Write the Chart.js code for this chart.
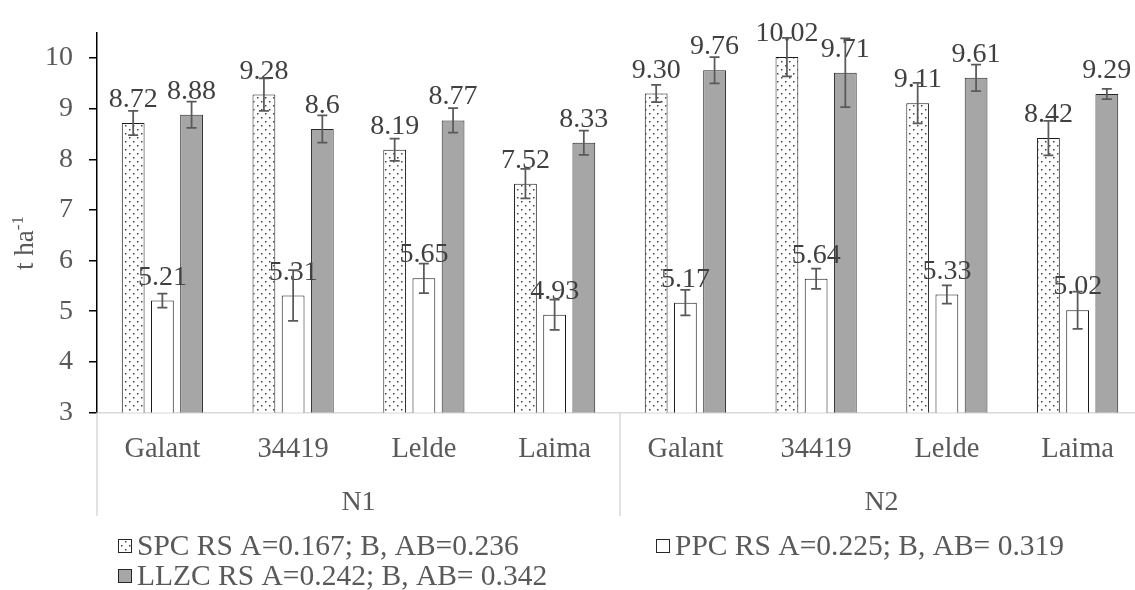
<!DOCTYPE html>
<html>
<head>
<meta charset="utf-8">
<script src="https://cdn.jsdelivr.net/npm/chart.js@4.4.1/dist/chart.umd.min.js"></script>
<style>
html, body { margin: 0; padding: 0; overflow: hidden; background: #fff; }
#wrap { width: 1143px; height: 590px; }
</style>
</head>
<body>
<div id="wrap"><canvas id="yieldChart" width="1143" height="590"></canvas></div>
<script>
var varieties = ['Galant', '34419', 'Lelde', 'Laima', 'Galant', '34419', 'Lelde', 'Laima'];
var groups = ['N1', 'N2'];
var yTicks = [3, 4, 5, 6, 7, 8, 9, 10];

var spc = [8.72, 9.28, 8.19, 7.52, 9.30, 10.02, 9.11, 8.42];
var spcErr = [0.24, 0.32, 0.22, 0.29, 0.17, 0.38, 0.40, 0.34];
var ppc = [5.21, 5.31, 5.65, 4.93, 5.17, 5.64, 5.33, 5.02];
var ppcErr = [0.14, 0.50, 0.29, 0.30, 0.25, 0.20, 0.18, 0.37];
var llzc = [8.88, 8.6, 8.77, 8.33, 9.76, 9.71, 9.61, 9.29];
var llzcErr = [0.26, 0.27, 0.24, 0.24, 0.26, 0.68, 0.26, 0.10];

var legendNames = ['SPC RS A=0.167; B, AB=0.236', 'PPC RS A=0.225; B, AB= 0.319', 'LLZC RS A=0.242; B, AB= 0.342'];

var FONT = '"Liberation Serif", "Times New Roman", serif';
var textGray = '#595959';

var canvas = document.getElementById('yieldChart');
var ctx = canvas.getContext('2d');

// dotted fill for the SPC bars
function dotPattern() {
    var c = document.createElement('canvas');
    c.width = 8; c.height = 8;
    var p = c.getContext('2d');
    p.fillStyle = '#fff';
    p.fillRect(0, 0, 8, 8);
    p.fillStyle = '#444';
    p.fillRect(1, 1, 1.5, 1.5);
    p.fillRect(5, 5, 1.5, 1.5);
    return ctx.createPattern(c, 'repeat');
}
var dots = dotPattern();

var barExtras = {
    id: 'barExtras',
    afterDatasetsDraw: function (chart) {
        var c = chart.ctx;
        var y = chart.scales.y;
        c.save();
        // value labels
        c.font = '28px ' + FONT;
        c.fillStyle = '#404040';
        c.textAlign = 'center';
        c.textBaseline = 'alphabetic';
        chart.data.datasets.forEach(function (ds, di) {
            chart.getDatasetMeta(di).data.forEach(function (bar, i) {
                var txt = ds.decimals ? ds.data[i].toFixed(ds.decimals) : String(ds.data[i]);
                c.fillText(txt, bar.x, bar.y - 16);
            });
        });
        // error bars
        c.strokeStyle = '#595959';
        c.lineWidth = 1.75;
        chart.data.datasets.forEach(function (ds, di) {
            chart.getDatasetMeta(di).data.forEach(function (bar, i) {
                var top = y.getPixelForValue(ds.data[i] + ds.errors[i]);
                var bot = y.getPixelForValue(ds.data[i] - ds.errors[i]);
                c.beginPath();
                c.moveTo(bar.x, top); c.lineTo(bar.x, bot);
                c.moveTo(bar.x - 5, top); c.lineTo(bar.x + 5, top);
                c.moveTo(bar.x - 5, bot); c.lineTo(bar.x + 5, bot);
                c.stroke();
            });
        });
        c.restore();
    }
};

var decorations = {
    id: 'decorations',
    afterDraw: function (chart) {
        var c = chart.ctx;
        var area = chart.chartArea;
        var mid = (area.left + area.right) / 2;
        c.save();

        // group separators and group names
        c.strokeStyle = '#d9d9d9';
        c.lineWidth = 1.5;
        [area.left, mid, area.right].forEach(function (x) {
            c.beginPath();
            c.moveTo(x, area.bottom);
            c.lineTo(x, 516);
            c.stroke();
        });
        c.font = '28px ' + FONT;
        c.fillStyle = textGray;
        c.textAlign = 'center';
        c.textBaseline = 'alphabetic';
        c.fillText(groups[0], (area.left + mid) / 2, 510);
        c.fillText(groups[1], (mid + area.right) / 2, 510);

        // y axis title with superscript
        c.save();
        c.translate(33, 243);
        c.rotate(-Math.PI / 2);
        c.textAlign = 'left';
        c.font = '27px ' + FONT;
        var w1 = c.measureText('t ha').width;
        c.font = '17px ' + FONT;
        var w2 = c.measureText('-1').width;
        var x0 = -(w1 + w2) / 2;
        c.font = '27px ' + FONT;
        c.fillText('t ha', x0, 0);
        c.font = '17px ' + FONT;
        c.fillText('-1', x0 + w1, -10);
        c.restore();

        // legend
        var items = [[118, 539], [656, 539], [118, 569]];
        var fills = [dots, '#ffffff', '#a6a6a6'];
        c.textAlign = 'left';
        c.font = '29.5px ' + FONT;
        items.forEach(function (pos, i) {
            c.fillStyle = fills[i];
            c.fillRect(pos[0], pos[1], 14, 14);
            c.strokeStyle = '#262626';
            c.lineWidth = 1;
            c.strokeRect(pos[0] + 0.5, pos[1] + 0.5, 13, 13);
            c.fillStyle = textGray;
            c.fillText(legendNames[i], pos[0] + 19, pos[1] + 16);
        });
        c.restore();
    }
};

var barOpts = { categoryPercentage: 0.67, barPercentage: 0.78, borderWidth: 1, borderSkipped: false };

new Chart(ctx, {
    type: 'bar',
    data: {
        labels: varieties,
        datasets: [
            Object.assign({ label: legendNames[0], data: spc, errors: spcErr, decimals: 2,
                backgroundColor: dots, borderColor: '#1a1a1a' }, barOpts),
            Object.assign({ label: legendNames[1], data: ppc, errors: ppcErr, decimals: 2,
                backgroundColor: '#ffffff', borderColor: '#1a1a1a' }, barOpts),
            Object.assign({ label: legendNames[2], data: llzc, errors: llzcErr, decimals: 0,
                backgroundColor: '#a6a6a6', borderColor: '#262626' }, barOpts)
        ]
    },
    options: {
        responsive: false,
        animation: false,
        devicePixelRatio: 1,
        layout: { padding: { top: 28, left: 0, right: 0, bottom: 0 } },
        plugins: {
            legend: { display: false },
            tooltip: { enabled: false }
        },
        scales: {
            x: {
                grid: { display: false, drawTicks: false },
                border: { color: '#d9d9d9', width: 1.5 },
                ticks: { color: textGray, font: { family: FONT, size: 28.5 }, padding: 20, maxRotation: 0, autoSkip: false },
                afterFit: function (scale) { scale.height = 177.5; }
            },
            y: {
                min: 3,
                max: 10.5,
                grid: { drawOnChartArea: false, drawTicks: true, tickLength: 8, color: '#000', lineWidth: 1.5 },
                border: { color: '#000', width: 1.5 },
                ticks: { stepSize: 1, includeBounds: false, color: textGray, font: { family: FONT, size: 28 }, padding: 16 },
                afterBuildTicks: function (scale) { scale.ticks = yTicks.map(function (v) { return { value: v }; }); },
                afterFit: function (scale) { scale.width = 97; }
            }
        }
    },
    plugins: [barExtras, decorations]
});
</script>
</body>
</html>
